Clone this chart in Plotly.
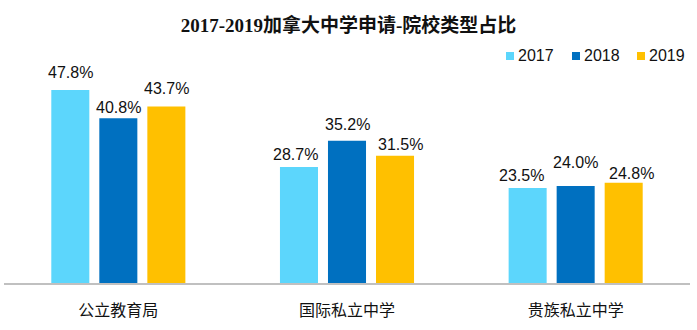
import plotly.graph_objects as go

categories = ["公立教育局", "国际私立中学", "贵族私立中学"]
years = ["2017", "2018", "2019"]
v2017 = [47.8, 28.7, 23.5]
v2018 = [40.8, 35.2, 24.0]
v2019 = [43.7, 31.5, 24.8]
series = [v2017, v2018, v2019]
colors = ["#5CD6FC", "#0070C0", "#FFC000"]

W, H = 697, 330
L, R, T, B = 4, 7, 81, 47
PW, PH = W - L - R, H - T - B
SLOT = 48  # px between bar centres within a group

# hand-placed data label nudges (px) as in the original chart
label_dx = [[0, 0, 0], [-4, 0, 5], [-6, 0, 8]]
label_gap = [[13, 6, 13], [8, 12, 7], [8, 19, 5]]


def px_x(x):
    return (x - L) / PW


def px_y(y):
    return (H - B - y) / PH


fig = go.Figure()
annotations = []
for i, (name, vals, col) in enumerate(zip(years, series, colors)):
    fig.add_trace(go.Bar(
        x=categories, y=vals, name=name,
        marker=dict(color=col, line=dict(width=0)),
        showlegend=False, hoverinfo="x+y+name",
    ))
    for j, (cat, v) in enumerate(zip(categories, vals)):
        annotations.append(dict(
            text=f"{v:.1f}%", xref="x", yref="y", x=cat, y=v,
            xanchor="center", yanchor="bottom", showarrow=False,
            xshift=(i - 1) * SLOT + label_dx[j][i], yshift=label_gap[j][i] - 6,
            font=dict(family="Liberation Sans, Arial", size=16, color="#111111")))

# legend drawn as squares + labels
shapes = []
legend_x0 = [506, 572, 637]
for i, (name, col) in enumerate(zip(years, colors)):
    x0 = legend_x0[i]
    shapes.append(dict(type="rect", xref="paper", yref="paper",
                       x0=px_x(x0), x1=px_x(x0 + 8), y0=px_y(60), y1=px_y(52),
                       fillcolor=col, line=dict(width=0)))
    annotations.append(dict(text=name, xref="paper", yref="paper",
                            x=px_x(x0 + 10), y=px_y(56), xanchor="left", yanchor="middle",
                            showarrow=False,
                            font=dict(family="Liberation Sans, Arial", size=16, color="#111111")))

fig.update_layout(
    width=W, height=H,
    margin=dict(l=L, r=R, t=T, b=B),
    paper_bgcolor="white", plot_bgcolor="white",
    barmode="group", bargap=0.37, bargroupgap=0.208,
    showlegend=False,
    title=dict(text="<b>2017-2019加拿大中学申请-院校类型占比</b>",
               font=dict(family="Liberation Serif, Noto Sans CJK SC", size=19, color="#111111"),
               x=0.5, xanchor="center", y=1 - 25 / H, yanchor="middle", yref="container"),
    shapes=shapes, annotations=annotations,
    xaxis=dict(showline=True, linecolor="#C0C0C0", linewidth=1.5, showgrid=False,
               ticks="outside", ticklen=12, tickcolor="rgba(0,0,0,0)",
               tickfont=dict(family="Noto Sans CJK SC", size=16, color="#111111")),
    yaxis=dict(range=[0, 50], visible=False, showgrid=False, zeroline=False),
)

fig.write_html("out.html")
